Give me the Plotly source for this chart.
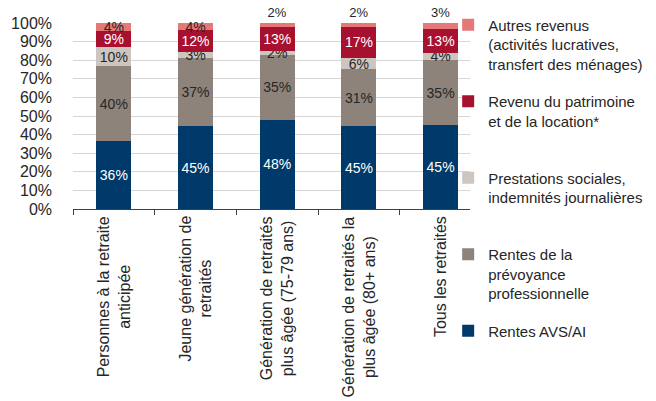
import plotly.graph_objects as go

categories = [
    "Personnes à la retraite<br>anticipée",
    "Jeune génération de<br>retraités",
    "Génération de retraités<br>plus âgée (75-79 ans)",
    "Génération de retraités la<br>plus âgée (80+ ans)",
    "Tous les retraités",
]
cat_keys = ["c1", "c2", "c3", "c4", "c5"]

avs = [36, 45, 48, 45, 45]
prevoyance = [40, 37, 35, 31, 35]
prestations = [10, 3, 2, 6, 4]
patrimoine = [9, 12, 13, 17, 13]
autres = [4, 4, 2, 2, 3]

series = [
    ("Rentes AVS/AI", avs, "#003a6a", "white"),
    ("Rentes de la<br>prévoyance<br>professionnelle", prevoyance, "#8d837a", "#262626"),
    ("Prestations sociales,<br>indemnités journalières<br> ", prestations, "#cdc5c0", "#262626"),
    ("Revenu du patrimoine<br>et de la location*<br> ", patrimoine, "#a8102f", "white"),
    ("Autres revenus<br>(activités lucratives,<br>transfert des ménages)", autres, "#e47a78", "#262626"),
]

FONT = "Liberation Sans, Arial, sans-serif"
TXT = "#262626"

fig = go.Figure()
n = len(series)
for i, (name, vals, color, tcol) in enumerate(series):
    if i == n - 1:
        tpos = ["inside", "inside", "outside", "outside", "outside"]
    else:
        tpos = "inside"
    fig.add_trace(go.Bar(
        x=cat_keys, y=vals, name=name,
        legendgroup=f"g{i}", legendrank=n - i,
        marker=dict(color=color, line=dict(width=0)),
        text=[f"{v}%" for v in vals], texttemplate="%{text}",
        textposition=tpos, insidetextanchor="middle", textangle=0,
        constraintext="none", cliponaxis=False,
        insidetextfont=dict(color=tcol, size=14, family=FONT),
        outsidetextfont=dict(color=TXT, size=13, family=FONT),
        width=0.43,
    ))

for k, lab in zip(cat_keys, categories):
    fig.add_annotation(x=k, y=0, xref="x", yref="paper", text=lab,
                       textangle=-90, showarrow=False, align="center",
                       xanchor="center", yanchor="top", yshift=-5,
                       font=dict(size=16, color=TXT, family=FONT))

fig.update_layout(
    width=648, height=393,
    margin=dict(l=65, r=186, t=15, b=192, autoexpand=False),
    barmode="stack", barnorm="percent",
    paper_bgcolor="white", plot_bgcolor="white",
    font=dict(family=FONT, size=16, color=TXT),
    showlegend=True,
    legend=dict(
        x=0.945, xanchor="left", y=1.078, yanchor="top",
        traceorder="grouped", tracegroupgap=15, valign="top", maxheight=400,
        font=dict(size=15, color=TXT, family=FONT),
        bgcolor="rgba(0,0,0,0)",
    ),
    xaxis=dict(
        range=[-0.5, 4.36], showticklabels=False, ticks="outside",
        tickson="boundaries", ticklen=5, tickcolor="#404040",
        showline=True, linecolor="#404040", linewidth=1, showgrid=False,
        zeroline=False, automargin=False,
    ),
    yaxis=dict(
        range=[0, 100.001], tick0=0, dtick=10, ticksuffix="%", showgrid=True,
        gridcolor="#d6d6d6", gridwidth=1, zeroline=False, showline=False,
        tickfont=dict(size=16, color=TXT, family=FONT), ticklabelstandoff=20,
        automargin=False,
    ),
)

fig.write_html("out.html")
